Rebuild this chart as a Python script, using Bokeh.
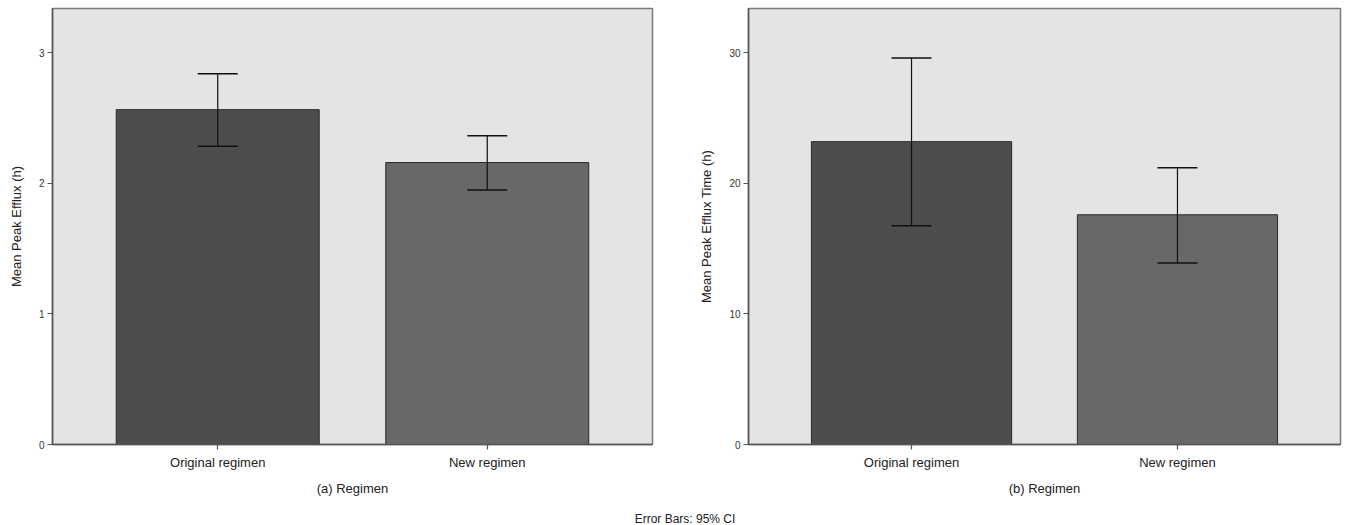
from bokeh.plotting import figure
from bokeh.models import (ColumnDataSource, FactorRange, Range1d, Whisker, TeeHead,
                          FixedTicker, Div)
from bokeh.layouts import row, column
from bokeh.embed import file_html
from bokeh.resources import INLINE

# ---- data ----
categories = ["Original regimen", "New regimen"]
efflux_mean = [2.565, 2.16]
efflux_upper = [2.84, 2.365]
efflux_lower = [2.285, 1.95]
time_mean = [23.2, 17.6]
time_upper = [29.6, 21.2]
time_lower = [16.75, 13.9]
bar_colors = ["#4d4d4d", "#686868"]
yticks_a = [0, 1, 2, 3]
yticks_b = [0, 10, 20, 30]

FONT = "Liberation Sans"


def make_panel(values, upper, lower, yend, yticks, ylabel, xlabel,
               left_border, right_border, frame_w):
    src = ColumnDataSource(dict(cat=categories, val=values, up=upper,
                                lo=lower, color=bar_colors))
    p = figure(x_range=FactorRange(factors=categories, range_padding=0.113,
                                   range_padding_units="absolute"),
               y_range=Range1d(0, yend),
               width=left_border + frame_w + right_border, height=506,
               min_border_left=left_border, min_border_right=right_border,
               min_border_top=8, min_border_bottom=62,
               output_backend="svg", toolbar_location=None)
    p.vbar(x="cat", top="val", width=0.753, source=src, fill_color="color",
           line_color="#2a2a2a", line_width=1)
    w = Whisker(source=src, base="cat", upper="up", lower="lo",
                line_color="#111111", line_width=1.2, level="annotation",
                upper_head=TeeHead(size=40, line_color="#111111", line_width=1.5),
                lower_head=TeeHead(size=40, line_color="#111111", line_width=1.5))
    p.add_layout(w)

    p.background_fill_color = "#e4e4e4"
    p.border_fill_color = "white"
    p.outline_line_color = "#7a7a7a"
    p.outline_line_width = 1.5
    p.xgrid.visible = False
    p.ygrid.visible = False

    p.yaxis.ticker = FixedTicker(ticks=yticks)
    p.yaxis.minor_tick_line_color = None
    p.yaxis.major_tick_in = 0
    p.yaxis.major_tick_out = 5
    p.yaxis.major_label_standoff = 3
    p.yaxis.major_label_text_font = FONT
    p.yaxis.major_label_text_font_size = "10px"
    p.yaxis.major_label_text_color = "#333333"
    p.yaxis.axis_label = ylabel
    p.yaxis.axis_label_text_font = FONT
    p.yaxis.axis_label_text_font_style = "normal"
    p.yaxis.axis_label_text_font_size = "13px"
    p.yaxis.axis_label_text_color = "#222222"
    p.yaxis.axis_label_standoff = 12

    p.xaxis.major_tick_in = 0
    p.xaxis.major_tick_out = 5
    p.xaxis.major_label_standoff = 5
    p.xaxis.major_label_text_font = FONT
    p.xaxis.major_label_text_font_size = "13px"
    p.xaxis.major_label_text_color = "#222222"
    p.xaxis.axis_label = xlabel
    p.xaxis.axis_label_text_font = FONT
    p.xaxis.axis_label_text_font_style = "normal"
    p.xaxis.axis_label_text_font_size = "13px"
    p.xaxis.axis_label_text_color = "#222222"
    p.xaxis.axis_label_standoff = 8

    for ax in (p.xaxis, p.yaxis):
        ax.axis_line_color = "#555555"
        ax.axis_line_width = 1.5
        ax.major_tick_line_color = "#555555"
        ax.major_tick_line_width = 1.2
    return p


p1 = make_panel(efflux_mean, efflux_upper, efflux_lower, 3.34, yticks_a,
                "Mean Peak Efflux (h)", "(a) Regimen", 52, 36, 600)
p2 = make_panel(time_mean, time_upper, time_lower, 33.4, yticks_b,
                "Mean Peak Efflux Time (h)", "(b) Regimen", 60, 2, 592)

note = Div(text='<div style="width:1340px;text-align:center;padding-left:20px;box-sizing:border-box;'
                'font-family:\'Liberation Sans\';font-size:12px;line-height:12px;color:#222;">'
                'Error Bars: 95% CI</div>',
           width=1340, height=12)

layout = column(row(p1, p2), note)
open("out.html", "w").write(file_html(layout, INLINE))
